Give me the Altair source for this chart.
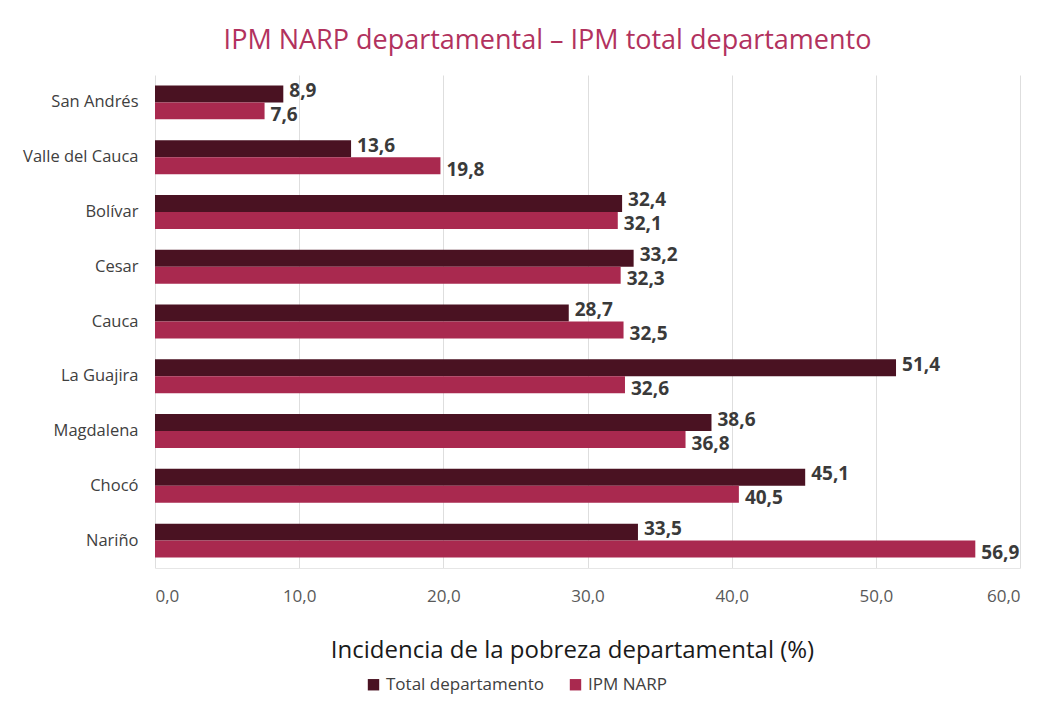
import altair as alt
import pandas as pd

departamentos = ["San Andrés", "Valle del Cauca", "Bolívar", "Cesar", "Cauca",
                 "La Guajira", "Magdalena", "Chocó", "Nariño"]
total_departamento = [8.9, 13.6, 32.4, 33.2, 28.7, 51.4, 38.6, 45.1, 33.5]
ipm_narp = [7.6, 19.8, 32.1, 32.3, 32.5, 32.6, 36.8, 40.5, 56.9]
series = ["Total departamento", "IPM NARP"]
colors = ["#4a1222", "#a9294f"]

rows = []
for d, t, n in zip(departamentos, total_departamento, ipm_narp):
    rows.append({"dep": d, "serie": series[0], "valor": t})
    rows.append({"dep": d, "serie": series[1], "valor": n})
df = pd.DataFrame(rows)

FONT = "Open Sans"

y_enc = alt.Y("dep:N", sort=departamentos, title=None,
              scale=alt.Scale(paddingInner=0.38, paddingOuter=0.19),
              axis=alt.Axis(labelFont=FONT, labelFontSize=16.5, labelColor="#404040",
                            labelPadding=17, ticks=False, domain=False))
yoff = alt.YOffset("serie:N", sort=series)

base = alt.Chart(df).encode(y=y_enc, yOffset=yoff)

bars = base.mark_bar().encode(
    x=alt.X("valor:Q", scale=alt.Scale(domain=[0, 60]),
            title="Incidencia de la pobreza departamental (%)",
            axis=alt.Axis(values=[0, 10, 20, 30, 40, 50, 60],
                          labelExpr="replace(format(datum.value, '.1f'), '.', ',')",
                          labelFont=FONT, labelFontSize=17, labelColor="#595959",
                          labelPadding=20, ticks=False,
                          domainColor="#e6e6e6", gridColor="#dedede",
                          titleFont=FONT, titleFontSize=24, titleFontWeight="normal",
                          titleColor="#1a1a1a", titlePadding=34, titleX=417)),
    color=alt.Color("serie:N", sort=series,
                    scale=alt.Scale(domain=series, range=colors),
                    legend=alt.Legend(title=None, orient="none", direction="horizontal",
                                      legendX=210, legendY=601,
                                      symbolType="square", symbolSize=130,
                                      labelFont=FONT, labelFontSize=17,
                                      labelColor="#404040", columnPadding=22,
                                      symbolStrokeWidth=0)),
)

def label_layer(serie, dy):
    return base.transform_filter(
        alt.datum.serie == serie
    ).transform_calculate(
        lbl="replace(format(datum.valor, '.1f'), '.', ',')"
    ).mark_text(align="left", baseline="middle", dx=6, dy=dy, font=FONT,
                fontSize=19, fontWeight="bold", color="#3a3a3a").encode(
        x="valor:Q", text="lbl:N")

labels_total = label_layer(series[0], -3)
labels_narp = label_layer(series[1], 4)

chart = (bars + labels_total + labels_narp).properties(
    width=865, height=493,
    title=alt.Title("IPM NARP departamental – IPM total departamento",
                    font=FONT, fontSize=27, fontWeight="normal", color="#b2325e",
                    anchor="middle", dx=-40, offset=20),
    padding={"left": 147, "top": 67, "right": 10, "bottom": 126},
    autosize="none",
).configure_view(stroke=None)

chart.save("out.html", embed_options={"renderer": "svg", "actions": False})
